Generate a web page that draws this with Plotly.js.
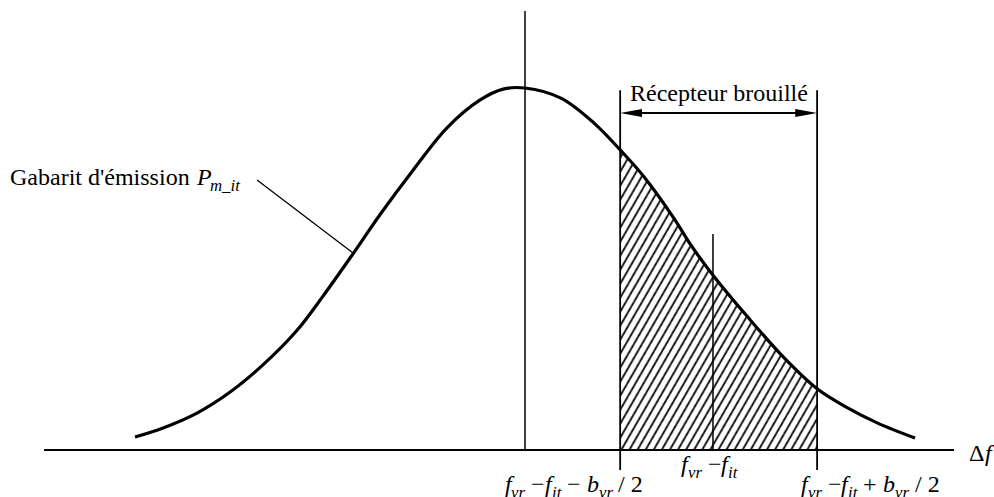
<!DOCTYPE html>
<html>
<head>
<meta charset="utf-8">
<script src="https://cdn.plot.ly/plotly-3.0.1.min.js"></script>
<style>
  html, body { margin: 0; padding: 0; background: #ffffff; }
  #chart { width: 994px; height: 497px; }
</style>
</head>
<body>
<div id="chart"></div>
<script>
// Emission mask P_m_it versus frequency offset Δf (arbitrary units, peak = 10)
const curveX = [-10, -9.28, -8.41, -7.56, -6.72, -5.85, -5.18, -4.41, -3.72, -2.87, -2.00, -1.15, -0.56,
                0, 0.92, 1.77, 2.44, 3.05, 3.82, 4.26, 4.82, 5.69, 6.64, 7.49, 8.26, 9.03, 10];
const curveY = [0.36, 0.61, 1.02, 1.60, 2.35, 3.30, 4.25, 5.42, 6.50, 7.73, 8.90, 9.67, 9.97,
                10, 9.72, 9.03, 8.29, 7.55, 6.40, 5.65, 4.83, 3.70, 2.55, 1.69, 1.17, 0.75, 0.33];

// Victim receiver band: f_vr − f_it ± b_vr / 2
const bandLower = 2.44;
const bandCenter = 4.82;
const bandUpper = 7.49;

// Text labels (<i> = italic, <sub> = italic subscript)
const maskLabel = "Gabarit d'émission <i>P</i><sub>m_it</sub>";
const bandLabel = "Récepteur brouillé";
const tickLabels = [
  "<i>f</i><sub>vr</sub> −<i>f</i><sub>it</sub> − <i>b</i><sub>vr</sub> / 2",
  "<i>f</i><sub>vr</sub> −<i>f</i><sub>it</sub>",
  "<i>f</i><sub>vr</sub> −<i>f</i><sub>it</sub> + <i>b</i><sub>vr</sub> / 2"
];
const axisLabel = "Δ<i>f</i>";

// Portion of the mask lying inside the receiver band (hatched area)
const bandX = [], bandY = [];
curveX.forEach((x, i) => {
  if (x >= bandLower && x <= bandUpper) { bandX.push(x); bandY.push(curveY[i]); }
});

const FAMILY = 'Liberation Serif';
const SIZE = 24;
const SUB_SIZE = 16.8;
const SUB_DROP = 8;

const traces = [
  {
    x: bandX, y: bandY, type: 'scatter', mode: 'lines',
    line: { width: 0, shape: 'spline', smoothing: 1 },
    fill: 'tozeroy',
    fillpattern: { shape: '/', size: 7, solidity: 0.25, fgcolor: '#000', bgcolor: '#fff' },
    hoverinfo: 'skip'
  },
  {
    x: curveX, y: curveY, type: 'scatter', mode: 'lines',
    line: { color: '#000', width: 3.2, shape: 'spline', smoothing: 1 },
    hoverinfo: 'skip'
  }
];

const ln = (x0, y0, x1, y1, w) => ({
  type: 'line', xref: 'x', yref: 'y', x0, y0, x1, y1,
  line: { color: '#000', width: w }
});

const arrowY = 9.31;
const headLen = 0.56, headHalf = 0.11;
const shapes = [
  ln(-12.33, 0, 11.0, 0, 1.8),                 // Δf axis
  ln(0, 0, 0, 12.13, 1.5),                     // carrier centre
  ln(bandLower, -0.55, bandLower, 9.94, 1.8),  // band edges
  ln(bandUpper, -0.55, bandUpper, 9.94, 1.8),
  ln(bandCenter, 0, bandCenter, 5.97, 1.5),    // band centre
  ln(-6.87, 7.46, -4.41, 5.44, 1.3),           // leader to the mask
  ln(bandLower + headLen * 0.5, arrowY, bandUpper - headLen * 0.5, arrowY, 1.8),
  {
    type: 'path', xref: 'x', yref: 'y', fillcolor: '#000', line: { width: 0 },
    path: `M${bandLower},${arrowY} L${bandLower + headLen},${arrowY + headHalf} L${bandLower + headLen},${arrowY - headHalf} Z`
  },
  {
    type: 'path', xref: 'x', yref: 'y', fillcolor: '#000', line: { width: 0 },
    path: `M${bandUpper},${arrowY} L${bandUpper - headLen},${arrowY + headHalf} L${bandUpper - headLen},${arrowY - headHalf} Z`
  }
];

// Split a label into runs: plain, italic, italic subscript
function parseLabel(s) {
  const runs = [];
  s.split(/(<i>.*?<\/i>|<sub>.*?<\/sub>)/).forEach(part => {
    if (!part) return;
    let m;
    if ((m = part.match(/^<i>(.*)<\/i>$/))) runs.push({ t: m[1], italic: true, sub: false });
    else if ((m = part.match(/^<sub>(.*)<\/sub>$/))) runs.push({ t: m[1], italic: true, sub: true });
    else runs.push({ t: part, italic: false, sub: false });
  });
  return runs;
}

const ctx = document.createElement('canvas').getContext('2d');
function measure(text, italic, size) {
  ctx.font = `${italic ? 'italic ' : ''}${size}px "${FAMILY}", serif`;
  return ctx.measureText(text).width;
}

// Lay the runs of one label side by side, each as its own annotation
function labelRuns(markup, x, y, align) {
  const runs = parseLabel(markup);
  const widths = runs.map(r => measure(r.t, r.italic, r.sub ? SUB_SIZE : SIZE));
  const total = widths.reduce((a, b) => a + b, 0);
  let cursor = align === 'left' ? 0 : -total / 2;
  const out = [];
  runs.forEach((r, k) => {
    const size = r.sub ? SUB_SIZE : SIZE;
    const lead = r.t.length - r.t.trimStart().length;
    const leadW = measure(r.t.slice(0, lead), r.italic, size);
    const drawn = r.t.trim();
    if (drawn) {
      out.push({
        text: drawn, x, y, xref: 'x', yref: 'y',
        xanchor: 'left', yanchor: 'middle',
        xshift: cursor + leadW, yshift: r.sub ? -SUB_DROP : 0,
        showarrow: false, borderpad: 0, borderwidth: 0,
        font: { family: FAMILY, size, color: '#000', style: r.italic ? 'italic' : 'normal' }
      });
    }
    cursor += widths[k];
  });
  return out;
}

const annotations = [].concat(
  labelRuns(bandLabel, (bandLower + bandUpper) / 2, 9.86),
  labelRuns(maskLabel, -13.2, 7.54, 'left'),
  labelRuns(tickLabels[0], 1.256, -0.94),
  labelRuns(tickLabels[1], 4.72, -0.39),
  labelRuns(tickLabels[2], 8.85, -0.94),
  labelRuns(axisLabel, 11.67, -0.08)
);

const layout = {
  width: 994, height: 497,
  margin: { l: 0, r: 0, t: 0, b: 0 },
  paper_bgcolor: '#fff', plot_bgcolor: '#fff',
  font: { family: FAMILY, size: SIZE, color: '#000' },
  showlegend: false,
  xaxis: { range: [-525 / 39, 469 / 39], visible: false, fixedrange: true },
  yaxis: { range: [-47 / 36.2, 450 / 36.2], visible: false, fixedrange: true },
  shapes, annotations
};

Plotly.newPlot('chart', traces, layout, { displayModeBar: false }).then(() => {
  // steepen the hatching to about 60°
  document.querySelectorAll('#chart pattern').forEach(p => {
    p.setAttribute('patternTransform', 'rotate(-15)');
  });
});
</script>
</body>
</html>
